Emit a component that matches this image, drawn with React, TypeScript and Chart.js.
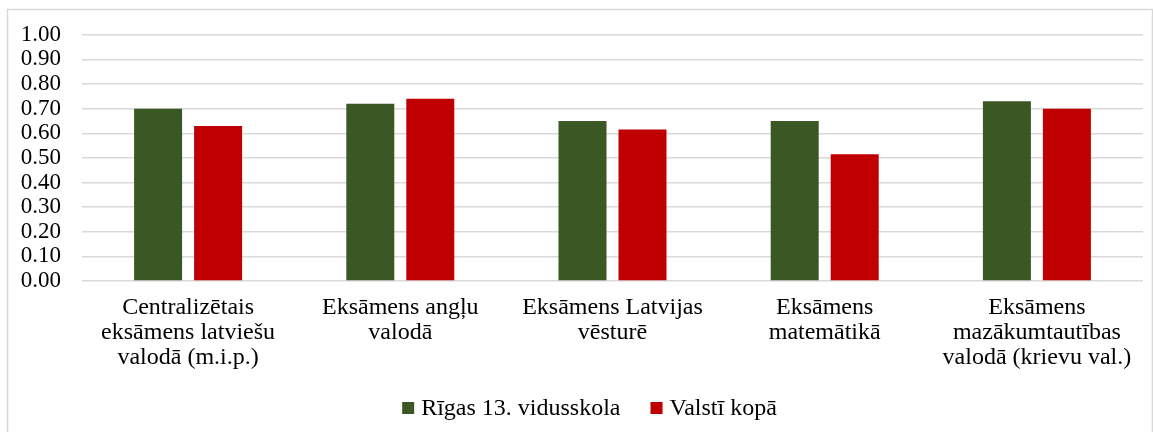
import React, { useEffect, useRef } from "react";
import { Chart, registerables } from "chart.js";

Chart.register(...registerables);

const categories: string[][] = [
  ["Centralizētais", "eksāmens latviešu", "valodā (m.i.p.)"],
  ["Eksāmens angļu", "valodā"],
  ["Eksāmens Latvijas", "vēsturē"],
  ["Eksāmens", "matemātikā"],
  ["Eksāmens", "mazākumtautības", "valodā (krievu val.)"],
];
const schoolLabel = "Rīgas 13. vidusskola";
const countryLabel = "Valstī kopā";
const schoolValues = [0.7, 0.72, 0.65, 0.65, 0.73];
const countryValues = [0.63, 0.74, 0.615, 0.515, 0.7];
const yTicks = [0, 0.1, 0.2, 0.3, 0.4, 0.5, 0.6, 0.7, 0.8, 0.9, 1.0];

const FONT = '"Liberation Serif"';
const FS = 24;
const FS_Y = 23;

const frameAndLegend = {
  id: "frameAndLegend",
  afterDraw(chart: any) {
    const ctx = chart.ctx as CanvasRenderingContext2D;
    ctx.save();
    ctx.strokeStyle = "#d9d9d9";
    ctx.lineWidth = 1.5;
    ctx.strokeRect(7.5, 9.5, 1145, 440);
    ctx.font = `${FS}px ${FONT}`;
    ctx.textBaseline = "middle";
    ctx.textAlign = "left";
    const items = chart.data.datasets.map((d: any) => ({
      label: d.label as string,
      color: d.backgroundColor as string,
      w: ctx.measureText(d.label).width,
    }));
    const box = 12;
    const gap = 7;
    const itemGap = 30;
    let total = 0;
    items.forEach((it: any, i: number) => {
      total += box + gap + it.w + (i < items.length - 1 ? itemGap : 0);
    });
    let x = 589.5 - total / 2;
    const cy = 408;
    items.forEach((it: any) => {
      ctx.fillStyle = it.color;
      ctx.fillRect(x, cy - box / 2, box, box);
      x += box + gap;
      ctx.fillStyle = "#000";
      ctx.fillText(it.label, x, cy + 1);
      x += it.w + itemGap;
    });
    ctx.restore();
  },
};

export default function App() {
  const ref = useRef<HTMLCanvasElement>(null);
  useEffect(() => {
    let chart: any = null;
    let cancelled = false;
    const build = () => {
      if (cancelled || !ref.current) return;
      chart = new Chart(ref.current, {
        type: "bar",
        data: {
          labels: categories,
          datasets: [
            {
              label: schoolLabel,
              data: schoolValues,
              backgroundColor: "#3a5724",
              barPercentage: 0.8,
              categoryPercentage: 0.5655,
            },
            {
              label: countryLabel,
              data: countryValues,
              backgroundColor: "#c00000",
              barPercentage: 0.8,
              categoryPercentage: 0.5655,
            },
          ],
        },
        options: {
          responsive: false,
          animation: false,
          layout: { padding: { left: 0, right: 10, top: 33, bottom: 0 } },
          plugins: {
            legend: { display: false },
            tooltip: { enabled: false },
          },
          scales: {
            x: {
              grid: { display: false, drawTicks: false },
              border: { display: false },
              ticks: {
                color: "#000",
                padding: 14,
                maxRotation: 0,
                autoSkip: false,
                font: { family: FONT, size: FS, lineHeight: 25 / 24 },
              },
              afterFit(scale: any) {
                scale.height = 432 - 281;
              },
            },
            y: {
              min: 0,
              max: 1,
              afterBuildTicks(scale: any) {
                scale.ticks = yTicks.map((v) => ({ value: v }));
              },
              grid: { color: "#d9d9d9", lineWidth: 1.5, drawTicks: false },
              border: { display: false },
              ticks: {
                color: "#000",
                padding: 21,
                autoSkip: false,
                font: { family: FONT, size: FS_Y },
                callback: (v: any) => Number(v).toFixed(2),
              },
              afterFit(scale: any) {
                scale.width = 82;
              },
            },
          },
        },
        plugins: [frameAndLegend],
      });
    };
    const fontsApi: any = (document as any).fonts;
    if (fontsApi && fontsApi.load) {
      fontsApi.load(`${FS}px "Liberation Serif"`).then(build, build);
    } else {
      build();
    }
    return () => {
      cancelled = true;
      if (chart) chart.destroy();
    };
  }, []);
  return (
    <div style={{ position: "fixed", left: 0, top: 0, width: 1153, height: 432, background: "#fff" }}>
      <span style={{ fontFamily: "Liberation Serif", position: "absolute", left: -9999, top: 0 }}>ā</span>
      <canvas ref={ref} width={1153} height={432} style={{ width: 1153, height: 432, display: "block" }} />
    </div>
  );
}
